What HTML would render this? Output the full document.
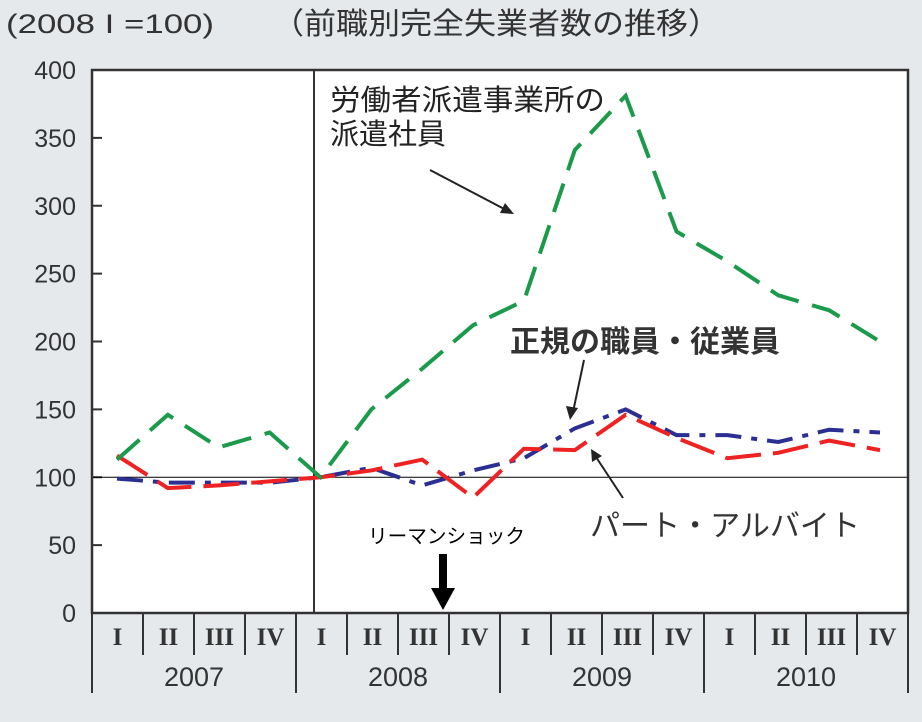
<!DOCTYPE html>
<html><head><meta charset="utf-8"><style>
body{margin:0;background:#e6e9ec;}
svg{display:block;font-family:"Liberation Sans","Noto Sans CJK JP",sans-serif;}
</style></head><body>
<svg width="922" height="722" id="c">
<rect x="0" y="0" width="922" height="722" fill="#e6e9ec"/>
<rect x="92" y="70" width="816" height="543" fill="#fff"/>
<text x="6" y="33" font-size="27" fill="#333" textLength="208" lengthAdjust="spacingAndGlyphs">(2008 I =100)</text>
<text x="272" y="34" font-size="30" fill="#333" textLength="448" lengthAdjust="spacingAndGlyphs">（前職別完全失業者数の推移）</text>
<g id="yaxis"></g>
<g id="xaxis"></g>
<g id="series"></g>
<text x="330" y="110" font-size="29" fill="#222" textLength="275" lengthAdjust="spacingAndGlyphs">労働者派遣事業所の</text>
<text x="330" y="144" font-size="29" fill="#222">派遣社員</text>
<line x1="430" y1="170" x2="510" y2="212" stroke="#222" stroke-width="2"/>
<polygon points="514,214 500,213 505,203" fill="#222"/>
<text x="510" y="352" font-size="30" font-weight="bold" fill="#333" textLength="270" lengthAdjust="spacingAndGlyphs">正規の職員・従業員</text>
<line x1="584" y1="360" x2="573" y2="412" stroke="#222" stroke-width="2"/>
<polygon points="570,420 566,406 578,408" fill="#222"/>
<text x="590" y="536" font-size="30" fill="#333" textLength="270" lengthAdjust="spacingAndGlyphs">パート・アルバイト</text>
<line x1="623" y1="498" x2="594" y2="454" stroke="#222" stroke-width="2"/>
<polygon points="591,449 602,456 592,462" fill="#222"/>
<text x="368" y="543" font-size="20" fill="#000" textLength="157" lengthAdjust="spacingAndGlyphs">リーマンショック</text>
<rect x="439" y="554" width="8" height="36" fill="#000"/>
<polygon points="431,588 455,588 443,610" fill="#000"/>
</svg>
<script>
const quarters=["I","II","III","IV","I","II","III","IV","I","II","III","IV","I","II","III","IV"];
const years=["2007","2008","2009","2010"];
const yTicks=[0,50,100,150,200,250,300,350,400];
const dispatch=[113,146,122,133,100,150,180,212,230,341,381,281,259,234,223,200];
const regular=[99,96,96,96,100,107,94,105,114,136,150,131,131,126,135,133];
const partTime=[116,92,94,97,100,105,113,85,121,120,146,129,114,118,127,120];
const NS="http://www.w3.org/2000/svg";
const L=92,R=908,T=70,B=613;
const y=v=>B-(v/400)*(B-T);
const x=i=>117+i*(880-117)/15;
function mk(t,a,p){const e=document.createElementNS(NS,t);for(const k in a)e.setAttribute(k,a[k]);p.appendChild(e);return e;}
const ya=document.getElementById('yaxis'),xa=document.getElementById('xaxis'),sg=document.getElementById('series');
yTicks.forEach(v=>{
 const t=mk('text',{x:76,y:y(v)+9,'font-size':25,'text-anchor':'end',fill:'#333'},ya);t.textContent=v;
 
 
 const l=mk('line',{x1:L,x2:L+10,y1:y(v),y2:y(v),stroke:'#333','stroke-width':2},ya);
 
 
});
const base=mk('line',{x1:L,x2:R,y1:y(100),y2:y(100),stroke:'#000','stroke-width':1},ya);


const vl=mk('line',{x1:314,x2:314,y1:T,y2:B,stroke:'#333','stroke-width':2},ya);


const fr=mk('rect',{x:L,y:T,width:R-L,height:B-T,fill:'none',stroke:'#333','stroke-width':2.5},ya);


const cw=(R-L)/16;
quarters.forEach((q,i)=>{
 const cx=L+cw*(i+0.5);
 const t=mk('text',{x:cx,y:645,'font-size':25,'font-weight':'bold','text-anchor':'middle',fill:'#333','font-family':'Liberation Serif,serif'},xa);t.textContent=q;
 
 
 const bottom=(i%4===0)?693:655;
 const l=mk('line',{x1:L+cw*i,x2:L+cw*i,y1:B,y2:bottom,stroke:'#333','stroke-width':2},xa);
 
 
});
const le=mk('line',{x1:R,x2:R,y1:B,y2:693,stroke:'#333','stroke-width':2},xa);


years.forEach((yr,i)=>{
 const t=mk('text',{x:L+cw*(i*4+2),y:686,'font-size':27,'text-anchor':'middle',fill:'#333'},xa);t.textContent=yr;
 
 
});
function line(d,col,dash,name){
 const p=mk('polyline',{points:d.map((v,i)=>x(i)+','+y(v)).join(' '),fill:'none',stroke:col,'stroke-width':4,'stroke-dasharray':dash},sg);
 
 
}
line(regular,'#2b2f94','26 10 6 10','regular-line');
line(partTime,'#ee2222','36 12','part-time-line');
line(dispatch,'#1a9a4a','30 14','dispatch-line');
</script>
</body></html>
